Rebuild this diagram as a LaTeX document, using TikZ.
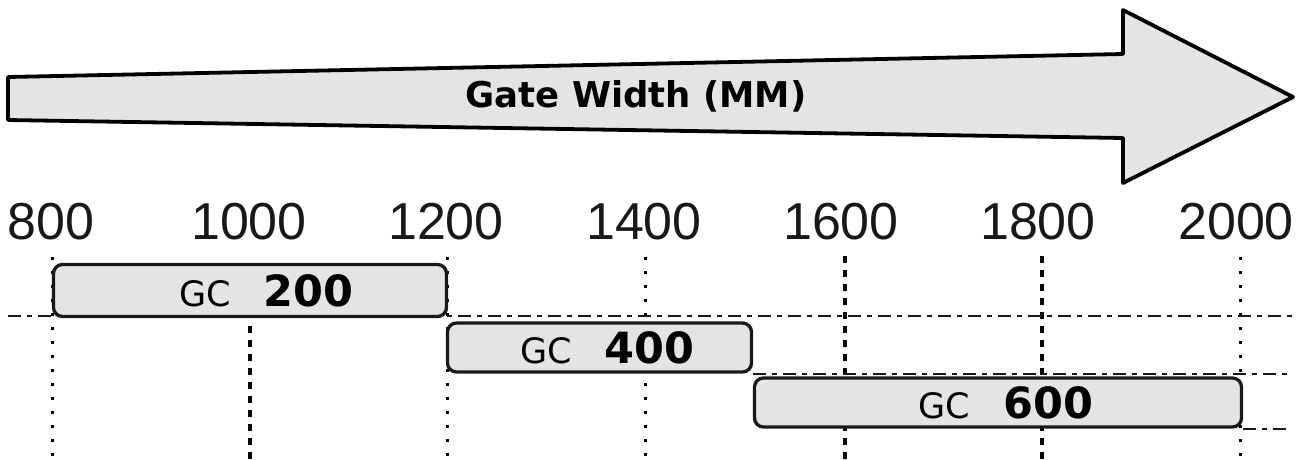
\documentclass[tikz,border=0pt]{standalone}
\usepackage{fontspec}
\setmainfont{DejaVu Sans}
\newfontfamily\tickfont{Liberation Sans}
\usepackage{xcolor}
\usepackage{tikz}
\usetikzlibrary{positioning}
\definecolor{boxgray}{HTML}{E4E4E4}
\newcommand{\gclabel}[2]{\hspace*{#1}{\fontsize{35}{35}\selectfont GC}\hspace{33pt}{\fontsize{43}{43}\selectfont\bfseries #2}}

\begin{document}
\begin{tikzpicture}[
        x=1pt, y=-1pt,
        gcbox/.style={draw=black!90, line width=3.3pt, rounded corners=9pt, fill=boxgray, inner sep=0pt},
        ticklabel/.style={font=\tickfont\fontsize{52}{52}\selectfont, inner sep=0pt, text=black!90},
        thingrid/.style={line width=3pt, dash pattern=on 3pt off 11pt, black},
        thickgrid/.style={line width=3.3pt, dash pattern=on 6.5pt off 7.5pt, black},
        rowline/.style={line width=2.3pt, dash pattern=on 13pt off 6pt on 5pt off 6pt, black!90}
    ]
    \useasboundingbox (0,0) rectangle (1306,459);

    % width arrow
    \draw[line width=3.8pt, line join=round, fill=boxgray]
        (8,77) -- (1123,54) -- (1123,10) -- (1293,97) -- (1123,183) -- (1123,138) -- (8,120) -- cycle;
    \node[font=\fontsize{35.5}{35.5}\selectfont\bfseries, inner sep=0pt] (title) at (636,96) {Gate Width (MM)};

    % scale
    \node[ticklabel] (t800) at (51,222) {800};
    \node[ticklabel] (t1000) at (249,222) {1000};
    \node[ticklabel] (t1200) at (446,222) {1200};
    \node[ticklabel] (t1400) at (644,222) {1400};
    \node[ticklabel] (t1600) at (841,222) {1600};
    \node[ticklabel] (t1800) at (1038,222) {1800};
    \node[ticklabel] (t2000) at (1236,222) {2000};

    \draw[thingrid] (52,257) -- (52,459);
    \draw[thickgrid] (250,326) -- (250,459);
    \draw[thingrid] (447,257) -- (447,459);
    \draw[thingrid] (645,257) -- (645,459);
    \draw[thickgrid] (845,256) -- (845,459);
    \draw[thickgrid] (1042,256) -- (1042,459);
    \draw[thingrid] (1240,257) -- (1240,459);

    % rows
    \coordinate (r1l) at (8,316);
    \coordinate (r1r) at (1294,316);
    \coordinate (r2r) at (1288,372);
    \coordinate (r3r) at (1288,426);

    \draw[rowline] (r1l) -- (r1r);

    \node[gcbox, minimum width=393pt, minimum height=52pt] (gc200) at (250,290.5) {\gclabel{33pt}{200}};
    \node[gcbox, minimum width=304pt, minimum height=49pt] (gc400) at (599.5,347.5) {\gclabel{16pt}{400}};
    \node[gcbox, minimum width=487pt, minimum height=49pt] (gc600) at (998,402.5) {\gclabel{16pt}{600}};

    \draw[rowline] (gc400.south east) -- (gc400.south east -| r2r);
    \draw[rowline] (gc600.south east) -- (gc600.south east -| r3r);

\end{tikzpicture}
\end{document}
